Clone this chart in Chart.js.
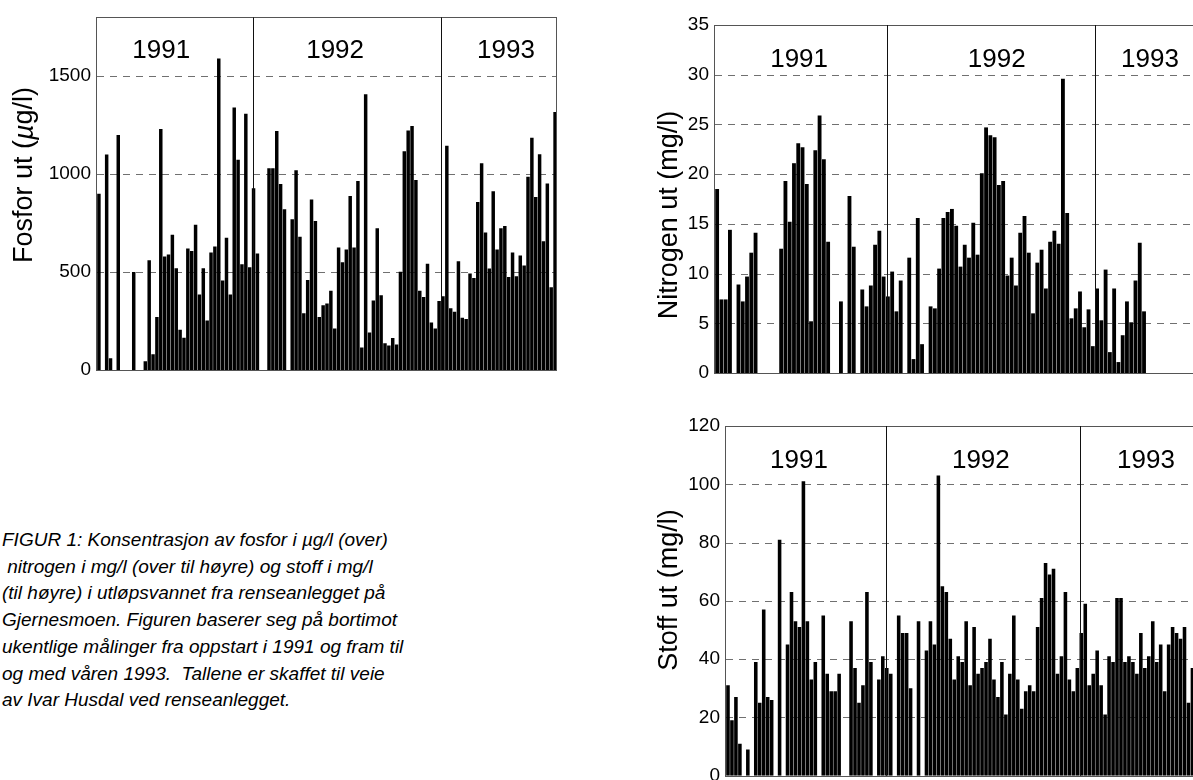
<!DOCTYPE html>
<html lang="no">
<head>
<meta charset="UTF-8">
<title>Gjernesmoen renseanlegg - utløpsvann</title>
<script src="https://cdn.jsdelivr.net/npm/chart.js"></script>
<style>
    html, body { margin: 0; padding: 0; background: #fff; width: 1193px; height: 780px; overflow: hidden; }
    canvas { position: absolute; }
    #fosfor { left: 0; top: 0; }
    #nitrogen { left: 630px; top: 0; }
    #stoff { left: 630px; top: 405px; }
    .figurtekst {
        position: absolute; left: 2px; top: 527px;
        font: italic 19px "Liberation Sans", Arial, sans-serif;
        line-height: 26.7px; white-space: pre; color: #000;
    }
</style>
</head>
<body>
<canvas id="fosfor" width="600" height="390"></canvas>
<canvas id="nitrogen" width="620" height="395"></canvas>
<canvas id="stoff" width="620" height="405"></canvas>

<div class="figurtekst">FIGUR 1: Konsentrasjon av fosfor i µg/l (over)
 nitrogen i mg/l (over til høyre) og stoff i mg/l
(til høyre) i utløpsvannet fra renseanlegget på
Gjernesmoen. Figuren baserer seg på bortimot
ukentlige målinger fra oppstart i 1991 og fram til
og med våren 1993.  Tallene er skaffet til veie
av Ivar Husdal ved renseanlegget.</div>

<script>
// ukentlige prøver, 1991 - våren 1993 (null = ingen måling)
const antallUker = 119;
const uker = Array.from({length: antallUker}, (_, i) => String(i + 1));
const aar = ['1991', '1992', '1993'];
const aarsskifte = [40.3, 89.1]; // uke-indeks der nytt år starter

const fosfor = [
    900, null, 1100, 60, null, 1200, null, null, null, 500,
    null, null, 45, 560, 80, 270, 1230, 580, 590, 690,
    520, 205, 165, 620, 607, 742, 385, 520, 253, 600,
    630, 1590, 457, 675, 385, 1340, 1073, 540, 1308, 525,
    928, 595, null, null, 1030, 1030, 1220, 950, 820, null,
    770, 1020, 680, 290, 460, 870, 760, 270, 330, 340,
    405, 212, 625, 550, 615, 888, 625, 965, 115, 1408,
    192, 355, 723, 382, 137, 125, 163, 130, 502, 1117,
    1222, 1245, 970, 405, 373, 542, 243, 212, 352, 377,
    1145, 315, 297, 555, 267, 260, 492, 470, 858, 1055,
    702, 518, 912, 615, 723, 735, 475, 600, 478, 585,
    533, 987, 1185, 883, 1102, 657, 952, 422, 1317
];

const nitrogen = [
    18.5, 7.4, 7.4, 14.4, null, 8.9, 7.2, 9.7, 12.1, 14.1,
    null, null, null, null, null, 12.5, 19.3, 15.2, 21.1, 23.1,
    22.7, 19.0, 5.2, 22.4, 25.9, 21.5, 13.2, null, null, 7.2,
    null, 17.8, 12.7, null, 8.4, 6.7, 8.8, 12.9, 14.3, 9.7,
    7.7, 10.2, 6.2, 9.3, null, 11.6, 1.4, 15.6, 2.9, null,
    6.7, 6.5, 10.5, 15.6, 16.2, 16.5, 14.8, 10.7, 12.9, 11.6,
    15.1, 11.9, 20.1, 24.7, 23.9, 23.7, 18.9, 19.3, 9.8, 11.6,
    8.8, 14.1, 15.8, 12.1, 6.0, 11.1, 12.4, 8.5, 13.2, 14.3,
    13.0, 29.6, 16.1, 5.5, 6.5, 8.2, 4.6, 6.4, 2.7, 8.5,
    5.3, 10.4, 2.1, 8.5, 1.1, 3.8, 7.2, 5.1, 9.3, 13.1,
    6.2, null, null, null, null, null, null, null, null, null,
    null, null, null, null, null, null, null, null, null
];

const stoff = [
    31, 19, 27, 11, null, 9, null, 39, 25, 57,
    27, 26, null, 81, null, 45, 63, 53, 51, 101,
    53, 33, 39, null, 55, 35, 29, 29, 35, null,
    null, 53, 37, 25, 31, 63, 39, null, 33, 41,
    37, 35, null, 55, 49, 49, 30, null, 53, null,
    43, 53, 45, 103, 65, 63, 47, 33, 41, 39,
    53, 31, 51, 35, 37, 39, 47, 33, 27, 39,
    21, 35, 55, 33, 23, 29, 31, 29, 51, 61,
    73, 69, 71, 35, 41, 63, 33, 29, 37, 49,
    59, 31, 35, 43, 31, 21, 41, 39, 61, 61,
    39, 41, 39, 35, 49, 37, 41, 53, 39, 45,
    29, 45, 51, 49, 47, 51, 25, 37, null
];

const fosforTicks = [0, 500, 1000, 1500];
const nitrogenTicks = [0, 5, 10, 15, 20, 25, 30, 35];
const stoffTicks = [0, 20, 40, 60, 80, 100, 120];

const FONT = '"Liberation Sans", Arial, sans-serif';

// rutenett, ramme, årsskille, årstall og aksetittel
const ramme = {
    id: 'ramme',
    beforeDatasetsDraw(chart, args, o) {
        const {ctx, chartArea: a, scales: {y}} = chart;
        ctx.save();
        ctx.strokeStyle = '#707070';
        ctx.lineWidth = 1;
        ctx.setLineDash([7, 6]);
        o.ticks.forEach(v => {
            if (v === y.min || v === y.max) return;
            const py = Math.round(y.getPixelForValue(v)) + 0.5;
            ctx.beginPath();
            ctx.moveTo(a.left, py);
            ctx.lineTo(a.right, py);
            ctx.stroke();
        });
        ctx.restore();
    },
    afterDatasetsDraw(chart, args, o) {
        const {ctx, chartArea: a, scales: {x}} = chart;
        ctx.save();
        // ramme
        ctx.strokeStyle = '#555';
        ctx.lineWidth = 1;
        ctx.strokeRect(Math.round(a.left) - 0.5, Math.round(a.top) + 0.5,
            Math.round(a.right - a.left), Math.round(a.bottom - a.top));
        // årsskille
        ctx.strokeStyle = '#111';
        aarsskifte.forEach(s => {
            const px = Math.round(x.getPixelForValue(s - 0.5)) + 0.5;
            ctx.beginPath();
            ctx.moveTo(px, a.top);
            ctx.lineTo(px, a.bottom);
            ctx.stroke();
        });
        // årstall
        ctx.fillStyle = '#000';
        ctx.font = '26px ' + FONT;
        ctx.textAlign = 'center';
        ctx.textBaseline = 'alphabetic';
        aar.forEach((t, i) => {
            ctx.fillText(t, x.getPixelForValue(o.aarPos[i]), a.top + o.aarY);
        });
        // aksetittel
        ctx.translate(o.tittelX, o.tittelY);
        ctx.rotate(-Math.PI / 2);
        ctx.textAlign = 'left';
        ctx.textBaseline = 'middle';
        const fonter = o.tittel.map(d => (d.kursiv ? 'italic ' : '') + '27px ' + FONT);
        let bredde = 0;
        o.tittel.forEach((d, i) => { ctx.font = fonter[i]; bredde += ctx.measureText(d.t).width; });
        let pos = -bredde / 2;
        o.tittel.forEach((d, i) => {
            ctx.font = fonter[i];
            ctx.fillText(d.t, pos, 0);
            pos += ctx.measureText(d.t).width;
        });
        ctx.restore();
    }
};

function lagDiagram(id, verdier, ticks, ymax, stil) {
    return new Chart(document.getElementById(id), {
        type: 'bar',
        data: {
            labels: uker,
            datasets: [{
                data: verdier,
                backgroundColor: '#000',
                borderWidth: 0,
                barPercentage: 0.9,
                categoryPercentage: 1
            }]
        },
        options: {
            responsive: false,
            animation: false,
            layout: { padding: stil.padding },
            plugins: {
                legend: { display: false },
                tooltip: { enabled: false },
                ramme: {
                    ticks: ticks,
                    aarPos: stil.aarPos,
                    aarY: stil.aarY,
                    tittel: stil.tittel,
                    tittelX: stil.tittelX,
                    tittelY: stil.tittelY
                }
            },
            scales: {
                x: { display: false },
                y: {
                    min: 0,
                    max: ymax,
                    afterBuildTicks: s => { s.ticks = ticks.map(v => ({value: v})); },
                    afterFit: s => { s.width = stil.yBredde; },
                    grid: { display: false, drawTicks: false },
                    border: { display: false },
                    ticks: {
                        padding: 6,
                        color: '#000',
                        font: { family: FONT, size: 19 },
                        callback: v => String(v)
                    }
                }
            }
        },
        plugins: [ramme]
    });
}

lagDiagram('fosfor', fosfor, fosforTicks, 1800, {
    padding: { top: 11, right: 43, bottom: 20, left: 0 },
    yBredde: 97,
    aarPos: [16.1, 61.1, 105.3],
    aarY: 41,
    tittel: [{t: 'Fosfor ut ('}, {t: 'µ', kursiv: true}, {t: 'g/l)'}],
    tittelX: 25,
    tittelY: 175
});

lagDiagram('nitrogen', nitrogen, nitrogenTicks, 35, {
    padding: { top: 25, right: 27, bottom: 22, left: 0 },
    yBredde: 85,
    aarPos: [19.2, 65.5, 101.4],
    aarY: 42,
    tittel: [{t: 'Nitrogen ut (mg/l)'}],
    tittelX: 40,
    tittelY: 215
});

lagDiagram('stoff', stoff, stoffTicks, 120, {
    padding: { top: 21, right: 51.6, bottom: 34.3, left: 0 },
    yBredde: 96,
    aarPos: [17.9, 63.7, 105.3],
    aarY: 42,
    tittel: [{t: 'Stoff ut (mg/l)'}],
    tittelX: 40,
    tittelY: 185
});
</script>
</body>
</html>
